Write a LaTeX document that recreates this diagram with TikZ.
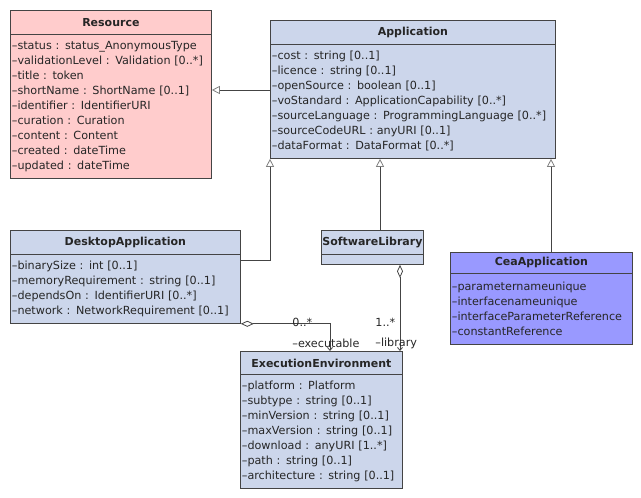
\documentclass[tikz,border=0pt]{standalone}
\usepackage{fontspec}
\setmainfont{DejaVu Sans}
\usetikzlibrary{arrows.meta}
\definecolor{resfill}{RGB}{255,204,204}
\definecolor{appfill}{RGB}{204,214,235}
\definecolor{ceafill}{RGB}{153,153,255}
\definecolor{umlline}{RGB}{68,68,68}

\begin{document}
\begin{tikzpicture}[x=1pt,y=-1pt,line width=0.8pt,
  every node/.style={font=\fontsize{11.2}{15}\selectfont, text=black!85},
  classhead/.style={draw=umlline, anchor=north west, minimum height=24pt, inner sep=0pt,
    font=\fontsize{11}{15}\selectfont\bfseries},
  classbody/.style={draw=umlline, anchor=north west, inner xsep=1.5pt, inner ysep=0pt, align=left},
  gen/.style={draw=umlline, -{Triangle[open, length=8pt, width=8pt, color=gray]}},
  agg/.style={draw=umlline, {Diamond[open, length=13pt, width=6pt]}-{Straight Barb[length=3pt, width=5pt]}}]
% cadre
\useasboundingbox (0,0) rectangle (641,498);
% Resource
\node[classhead, fill=resfill, minimum width=201pt] (res-head) at (10,10) {Resource};
\node[classbody, fill=resfill, text width=198pt, minimum height=144pt] (res-body) at (10,34)
  {–status : status\_AnonymousType\\–validationLevel : Validation [0..*]\\–title : token\\
   –shortName : ShortName [0..1]\\–identifier : IdentifierURI\\–curation : Curation\\
   –content : Content\\–created : dateTime\\–updated : dateTime};
% Application
\node[classhead, fill=appfill, minimum width=285pt] (app-head) at (270,20) {Application};
\node[classbody, fill=appfill, text width=282pt, minimum height=114pt] (app-body) at (270,44)
  {–cost : string [0..1]\\–licence : string [0..1]\\–openSource : boolean [0..1]\\
   –voStandard : ApplicationCapability [0..*]\\–sourceLanguage : ProgrammingLanguage [0..*]\\
   –sourceCodeURL : anyURI [0..1]\\–dataFormat : DataFormat [0..*]};
% DesktopApplication
\node[classhead, fill=appfill, minimum width=230pt] (desk-head) at (10,230) {DesktopApplication};
\node[classbody, fill=appfill, text width=227pt, minimum height=69pt] (desk-body) at (10,254)
  {–binarySize : int [0..1]\\–memoryRequirement : string [0..1]\\
   –dependsOn : IdentifierURI [0..*]\\–network : NetworkRequirement [0..1]};
% SoftwareLibrary
\node[classhead, fill=appfill, minimum width=102pt] (lib-head) at (321,230) {SoftwareLibrary};
\node[classbody, fill=appfill, text width=99pt, minimum height=10pt] (lib-body) at (321,254) {};
% CeaApplication
\node[classhead, fill=ceafill, minimum width=182pt, minimum height=21pt] (cea-head) at (450,252) {CeaApplication};
\node[classbody, fill=ceafill, text width=179pt, minimum height=71pt] (cea-body) at (450,273)
  {–parameternameunique\\–interfacenameunique\\–interfaceParameterReference\\–constantReference};
% ExecutionEnvironment
\node[classhead, fill=appfill, minimum width=162pt, minimum height=23pt] (exe-head) at (240,351) {ExecutionEnvironment};
\node[classbody, fill=appfill, text width=159pt, minimum height=114pt] (exe-body) at (240,374)
  {–platform : Platform\\–subtype : string [0..1]\\–minVersion : string [0..1]\\
   –maxVersion : string [0..1]\\–download : anyURI [1..*]\\–path : string [0..1]\\
   –architecture : string [0..1]};
% heritage
\draw[gen] (app-body.west |- 0,90) -- (res-body.east |- 0,90);
\draw[gen] (desk-body.east |- 0,260) -| (app-body.south west);
\draw[gen] (lib-head.north -| 380,0) -- (app-body.south -| 380,0);
\draw[gen] (cea-head.north -| 551,0) -- (app-body.south -| 551,0);
% aggregations
\draw[agg] (desk-body.south east) -| (exe-head.north -| 330,0);
\draw[agg] (lib-body.south -| 400,0) -- (exe-head.north -| 400,0);
\node[anchor=west, inner sep=0pt] (exe-mult) at (292,322) {0..*};
\node[anchor=west, inner sep=0pt] (exe-role) at (292,343) {–executable};
\node[anchor=west, inner sep=0pt] (lib-mult) at (375,322) {1..*};
\node[anchor=west, inner sep=0pt] (lib-role) at (375,343) {–library};
\end{tikzpicture}
\end{document}
